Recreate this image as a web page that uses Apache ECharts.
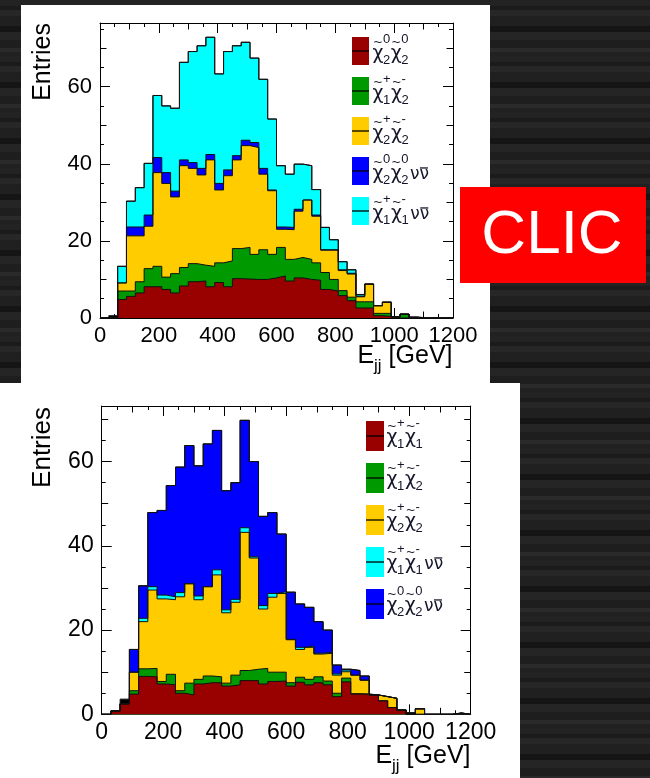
<!DOCTYPE html>
<html>
<head>
<meta charset="utf-8">
<script src="https://cdn.jsdelivr.net/npm/echarts@6/dist/echarts.min.js"></script>
<style>
html, body { margin: 0; padding: 0; }
body {
  width: 650px; height: 778px; overflow: hidden;
  background-color: #202020;
  background-image: repeating-linear-gradient(180deg,
    #232323 0px, #232323 6px, #1b1b1b 6px, #1b1b1b 10px,
    #272727 10px, #272727 16px, #202020 16px, #202020 26px,
    #151515 26px, #151515 32px, #252525 32px, #252525 40px,
    #1e1e1e 40px, #1e1e1e 48px, #2a2a2a 48px, #2a2a2a 52px,
    #212121 52px, #212121 56px);
}
#chart { width: 650px; height: 778px; }
</style>
</head>
<body>
<div id="chart"></div>
<script>
// Histogram binning: 40 bins of 30 GeV from 0 to 1200 GeV
const binEdges = [0, 30, 60, 90, 120, 150, 180, 210, 240, 270, 300, 330, 360, 390, 420, 450, 480, 510, 540, 570,
  600, 630, 660, 690, 720, 750, 780, 810, 840, 870, 900, 930, 960, 990, 1020, 1050, 1080, 1110, 1140, 1170, 1200];

const xTickLabels = ['0', '200', '400', '600', '800', '1000', '1200'];
const yTickLabels = ['0', '20', '40', '60'];

// Upper plot: per-process entries (stacked bottom to top)
const topN2N2   = [0, 0, 4.8, 5.6, 6.5, 8.1, 8.1, 7.4, 6.5, 8.3, 9.4, 9.6, 8.1, 9.2, 8.1, 10.2, 10.1, 10.0, 10.0, 10.4,
  10.9, 9.6, 10.4, 10.0, 9.8, 7.4, 7.0, 5.8, 4.5, 2.6, 2.6, 0.6, 0.4, 0, 0, 0, 0, 0, 0, 0];
const topC1C2   = [0, 0, 2.2, 1.4, 2.9, 4.7, 5.3, 3.2, 5.0, 4.8, 4.7, 4.1, 5.3, 5.1, 6.7, 7.8, 8.2, 6.5, 7.7, 6.1,
  7.4, 5.6, 5.3, 5.2, 4.5, 4.4, 3.0, 1.3, 0.9, 1.6, 1.6, 0.6, 0.8, 0.3, 1.0, 0, 0, 0, 0, 0];
const topC2C2   = [0, 0, 2.1, 14.3, 11.9, 11.0, 24.3, 24.3, 19.9, 26.4, 24.7, 23.4, 27.6, 18.9, 22.1, 23.0, 26.4, 27.7, 19.6, 16.5,
  4.7, 7.7, 12.0, 15.4, 12.1, 5.8, 7.6, 5.2, 6.0, 1.3, 4.6, 2.0, 2.9, 0, 0, 0, 0, 0, 0, 0];
const topN2N2nn = [0, 0, 0, 2.3, 2.3, 2.9, 3.9, 2.8, 1.5, 1.5, 1.5, 1.7, 1.4, 1.7, 1.5, 1.1, 1.4, 1.3, 1.5, 0.2,
  0.6, 0.6, 0.5, 0, 0.3, 0.1, 0.1, 0.2, 0.2, 0.2, 0, 0, 0, 0, 0, 0, 0, 0, 0, 0];
const topC1C1nn = [0, 0, 4.3, 6.7, 10.2, 13.4, 16.1, 17.3, 21.5, 25.3, 28.8, 31.8, 30.4, 28.4, 30.7, 28.5, 25.4, 21.9, 23.1, 18.4,
  15.9, 13.8, 11.7, 8.9, 6.6, 5.8, 2.6, 2.1, 0.9, 0.4, 0, 0, 0, 0, 0, 0, 0, 0, 0, 0];
const topOther  = [0, 0.6, 0, 0, 0, 0, 0, 0, 0, 0, 0, 0, 0, 0, 0, 0, 0, 0, 0, 0,
  0, 0, 0, 0, 0, 0, 0, 0, 0, 0, 0, 0, 0, 0, 0, 0.3, 0, 0, 0, 0];

// Lower plot: per-process entries (stacked bottom to top)
const botC1C1   = [0, 0.8, 2.5, 4.8, 9.0, 8.9, 7.2, 7.0, 5.0, 4.6, 7.2, 7.5, 7.5, 6.7, 7.0, 8.0, 8.0, 7.2, 7.8, 7.9,
  6.7, 7.6, 7.0, 7.5, 7.0, 4.2, 7.7, 4.8, 4.8, 4.6, 3.2, 1.6, 1.0, 0, 0, 0, 0, 0, 0, 0];
const botC1C2   = [0, 0, 0, 0.8, 1.8, 2.0, 0.6, 2.5, 0.6, 2.8, 1.1, 1.6, 1.4, 0.7, 2.3, 2.4, 2.7, 3.7, 2.2, 2.1,
  0.8, 1.2, 1.3, 1.4, 0.9, 0.8, 0.9, 0.1, 0, 0, 0, 0, 0, 0, 0, 0, 0, 0, 0, 0];
const botC2C2   = [0, 0, 0, 4.4, 11.2, 18.6, 19.6, 17.7, 22.3, 23.6, 18.9, 21.2, 24.2, 16.7, 17.3, 32.8, 26.4, 14.1, 17.8, 18.7,
  10.2, 6.6, 7.6, 5.4, 6.6, 4.3, 1.5, 4.4, 3.3, 0, 1.0, 2.2, 0, 0, 1.3, 0, 0, 0, 0.3, 0];
const botC1C1nn = [0, 0, 0, 0, 0.8, 0.8, 0.9, 0.7, 1.0, 0, 0.9, 0, 1.2, 0.7, 0.7, 1.1, 0.3, 0.8, 0.9, 0.4,
  0.1, 0.5, 0.3, 0.2, 0.2, 0.3, 0.4, 0, 0, 0, 0, 0, 0, 0, 0, 0, 0, 0, 0, 0];
const botN2N2nn = [0, 0, 0, 5.4, 7.7, 17.6, 20.1, 26.4, 29.8, 32.8, 30.9, 33.9, 33.1, 28.3, 27.7, 25.5, 22.6, 21.2, 19.2, 13.7,
  11.2, 10.3, 9.2, 7.5, 5.3, 2.1, 0.2, 1.1, 1.0, 0, 0, 0, 0, 0, 0, 0, 0, 0, 0, 0];
const botOther  = [0, 0, 1.1, 0, 0, 0, 0, 0, 0, 0, 0, 0, 0, 0, 0, 0, 0, 0, 0, 0,
  0, 0, 0, 0, 0, 0, 0, 0, 0, 0, 0, 0, 0, 0.4, 0, 0, 0, 0, 0, 0];

const C_RED = '#990000', C_GREEN = '#009900', C_YELLOW = '#ffcc00', C_BLUE = '#0000ff', C_CYAN = '#00ffff';
const FONT = '"Liberation Sans", Arial, Helvetica, sans-serif';
const GREEK = '"DejaVu Sans", "Liberation Sans", sans-serif';
const INK = '#000';
const LEG_INK = '#15152a';

// text width measurement for composed labels
const mctx = document.createElement('canvas').getContext('2d');
function tw(text, size, fam) { mctx.font = size + 'px ' + (fam || FONT); return mctx.measureText(text).width; }

function txt(x, baseline, text, size, opts) {
  opts = opts || {};
  return {
    type: 'text', x: x, y: baseline - 0.34 * size, z: 60, silent: true,
    style: { text: text, font: size + 'px ' + (opts.family || FONT), fill: opts.fill || INK,
             align: opts.align || 'left', verticalAlign: 'middle' }
  };
}

// chi-tilde symbols with super/subscripts, optional nu nu-bar
function processLabel(x, base, tokens, s, small) {
  const els = [];
  let cx = x;
  tokens.forEach(function (tk) {
    if (tk.chi) {
      const w = tw('χ', s, GREEK);
      els.push(txt(cx, base, 'χ', s, { fill: LEG_INK, family: GREEK }));
      els.push({ type: 'text', x: cx + w / 2, y: base - 18, z: 60, silent: true,
        style: { text: '~', font: '15px ' + FONT, fill: LEG_INK, align: 'center', verticalAlign: 'middle' } });
      els.push(txt(cx + w - 0.5, base - 16.5, tk.sup, small, { fill: LEG_INK }));
      els.push(txt(cx + w - 0.5, base + 4.5, tk.sub, small, { fill: LEG_INK }));
      cx += w - 0.5 + Math.max(tw(tk.sup, small), tw(tk.sub, small)) + 0.5;
    } else {
      const w = tw('ν', s - 2, GREEK);
      els.push(txt(cx + 1, base, 'ν', s - 2, { fill: LEG_INK, family: GREEK }));
      els.push(txt(cx + 1 + w, base, 'ν', s - 2, { fill: LEG_INK, family: GREEK }));
      els.push({ type: 'line', z: 60, silent: true,
        shape: { x1: cx + 1.5 + w, y1: base - 0.66 * s, x2: cx + 2 * w, y2: base - 0.66 * s },
        style: { stroke: LEG_INK, lineWidth: 1.3 } });
    }
  });
  return els;
}

function legend(entries, boxX, boxW, y0, boxH, pitch, textX, s, small) {
  let els = [];
  entries.forEach(function (e, i) {
    const y = y0 + i * pitch;
    els.push({ type: 'rect', z: 55, silent: true, shape: { x: boxX, y: y, width: boxW, height: boxH }, style: { fill: e.color } });
    els.push({ type: 'line', z: 56, silent: true,
      shape: { x1: boxX, y1: y + boxH / 2, x2: boxX + boxW, y2: y + boxH / 2 }, style: { stroke: '#000', lineWidth: 1.3 } });
    els = els.concat(processLabel(textX, y + 23.5, e.tokens, s, small));
  });
  return els;
}

function ejjTitle(right, base, big, sub) {
  const wE = tw('E', big), wj = tw('jj', sub), wG = tw(' [GeV]', big);
  const x0 = right - (wE + wj + wG);
  return [txt(x0, base, 'E', big), txt(x0 + wE, base + 0.3 * big, 'jj', sub), txt(x0 + wE + wj, base, ' [GeV]', big)];
}

// frame axes: labelled axis + medium + short tick axes, mirrored on the opposite side
function panelAxes(gi, ymax, labelSize) {
  const line = { show: true, onZero: false, lineStyle: { color: '#000', width: 1 } };
  const noLine = { show: false, onZero: false };
  const xs = [], ys = [];
  const xc = { gridIndex: gi, type: 'value', min: 0, max: 1200, splitLine: { show: false } };
  const yc = { gridIndex: gi, type: 'value', min: 0, max: ymax, splitLine: { show: false } };
  const xLabelMap = {};
  xTickLabels.forEach(function (t) { xLabelMap[t] = t; });
  ['bottom', 'top'].forEach(function (pos) {
    xs.push(Object.assign({}, xc, { position: pos, interval: 200, axisLine: line,
      axisTick: { show: true, inside: true, length: 10, lineStyle: { color: '#000' } },
      axisLabel: { show: pos === 'bottom', margin: 7, fontSize: labelSize, color: INK, fontFamily: FONT,
        formatter: function (v) { return xLabelMap[String(v)] || ''; } } }));
    xs.push(Object.assign({}, xc, { position: pos, interval: 100, axisLine: noLine,
      axisTick: { show: true, inside: true, length: 6.5, lineStyle: { color: '#000' } }, axisLabel: { show: false } }));
    xs.push(Object.assign({}, xc, { position: pos, interval: 50, axisLine: noLine,
      axisTick: { show: true, inside: true, length: 4, lineStyle: { color: '#000' } }, axisLabel: { show: false } }));
  });
  const yLabelSet = {};
  yTickLabels.forEach(function (t) { yLabelSet[t] = true; });
  ['left', 'right'].forEach(function (pos) {
    ys.push(Object.assign({}, yc, { position: pos, interval: 20, axisLine: line,
      axisTick: { show: true, inside: true, length: 10, lineStyle: { color: '#000' } },
      axisLabel: { show: pos === 'left', margin: 8, fontSize: labelSize, color: INK, fontFamily: FONT,
        showMaxLabel: false, formatter: function (v) { return yLabelSet[String(v)] ? String(v) : ''; } } }));
    ys.push(Object.assign({}, yc, { position: pos, interval: 10, axisLine: noLine,
      axisTick: { show: true, inside: true, length: 6.5, lineStyle: { color: '#000' } }, axisLabel: { show: false } }));
    ys.push(Object.assign({}, yc, { position: pos, interval: 5, axisLine: noLine,
      axisTick: { show: true, inside: true, length: 4, lineStyle: { color: '#000' } }, axisLabel: { show: false } }));
  });
  return { xs: xs, ys: ys };
}

// stacked histogram: cumulative step areas drawn from the top layer down
function stackSeries(layers, xi, yi) {
  const cum = [];
  let run = layers[0].values.map(function () { return 0; });
  layers.forEach(function (l) {
    run = run.map(function (v, i) { return v + l.values[i]; });
    cum.push(run.slice());
  });
  const out = [];
  for (let k = layers.length - 1; k >= 0; k--) {
    const c = cum[k];
    out.push({
      type: 'line', name: layers[k].name, xAxisIndex: xi, yAxisIndex: yi,
      step: 'end', symbol: 'none', showSymbol: false, animation: false, silent: true, z: 2,
      data: binEdges.map(function (x, i) { return [x, c[Math.min(i, c.length - 1)]]; }),
      lineStyle: { color: '#111', width: 1 },
      areaStyle: { color: layers[k].color, opacity: 1 }
    });
  }
  return out;
}

const TOP_YMAX = 76.5, BOT_YMAX = 73.2;
const a0 = panelAxes(0, TOP_YMAX, 22);
const a1 = panelAxes(1, BOT_YMAX, 23);

const topLayers = [
  { name: 'N2N2', values: topN2N2, color: C_RED },
  { name: 'C1C2', values: topC1C2, color: C_GREEN },
  { name: 'C2C2', values: topC2C2, color: C_YELLOW },
  { name: 'N2N2nn', values: topN2N2nn, color: C_BLUE },
  { name: 'C1C1nn', values: topC1C1nn, color: C_CYAN },
  { name: 'other', values: topOther, color: '#000' }
];
const botLayers = [
  { name: 'C1C1', values: botC1C1, color: C_RED },
  { name: 'C1C2', values: botC1C2, color: C_GREEN },
  { name: 'C2C2', values: botC2C2, color: C_YELLOW },
  { name: 'C1C1nn', values: botC1C1nn, color: C_CYAN },
  { name: 'N2N2nn', values: botN2N2nn, color: C_BLUE },
  { name: 'other', values: botOther, color: '#000' }
];

const NU = { nu: true };
const topLegend = [
  { color: C_RED,    tokens: [{ chi: 1, sup: '0', sub: '2' }, { chi: 1, sup: '0', sub: '2' }] },
  { color: C_GREEN,  tokens: [{ chi: 1, sup: '+', sub: '1' }, { chi: 1, sup: '-', sub: '2' }] },
  { color: C_YELLOW, tokens: [{ chi: 1, sup: '+', sub: '2' }, { chi: 1, sup: '-', sub: '2' }] },
  { color: C_BLUE,   tokens: [{ chi: 1, sup: '0', sub: '2' }, { chi: 1, sup: '0', sub: '2' }, NU] },
  { color: C_CYAN,   tokens: [{ chi: 1, sup: '+', sub: '1' }, { chi: 1, sup: '-', sub: '1' }, NU] }
];
const botLegend = [
  { color: C_RED,    tokens: [{ chi: 1, sup: '+', sub: '1' }, { chi: 1, sup: '-', sub: '1' }] },
  { color: C_GREEN,  tokens: [{ chi: 1, sup: '+', sub: '1' }, { chi: 1, sup: '-', sub: '2' }] },
  { color: C_YELLOW, tokens: [{ chi: 1, sup: '+', sub: '2' }, { chi: 1, sup: '-', sub: '2' }] },
  { color: C_CYAN,   tokens: [{ chi: 1, sup: '+', sub: '1' }, { chi: 1, sup: '-', sub: '1' }, NU] },
  { color: C_BLUE,   tokens: [{ chi: 1, sup: '0', sub: '2' }, { chi: 1, sup: '0', sub: '2' }, NU] }
];

let graphics = [
  // white canvases of the two plots and the CLIC badge
  { type: 'rect', z: -10, silent: true, shape: { x: 21, y: 5, width: 469, height: 380 }, style: { fill: '#fff' } },
  { type: 'rect', z: -10, silent: true, shape: { x: 0, y: 383, width: 520, height: 395 }, style: { fill: '#fff' } },
  { type: 'rect', z: -9, silent: true, shape: { x: 460, y: 187, width: 186, height: 96 }, style: { fill: '#ff0000' } },
  { type: 'text', z: 60, silent: true, x: 552, y: 236,
    style: { text: 'CLIC', font: '62px ' + FONT, fill: '#fff', align: 'center', verticalAlign: 'middle' } },
  // rotated axis titles, anchored at the top of each frame
  { type: 'text', z: 60, silent: true, x: 51.5 - 0.34 * 25, y: 23, rotation: Math.PI / 2,
    style: { text: 'Entries', font: '25px ' + FONT, fill: INK, align: 'right', verticalAlign: 'middle' } },
  { type: 'text', z: 60, silent: true, x: 51.5 - 0.34 * 26, y: 407, rotation: Math.PI / 2,
    style: { text: 'Entries', font: '26px ' + FONT, fill: INK, align: 'right', verticalAlign: 'middle' } }
];
graphics = graphics.concat(ejjTitle(452.5, 365, 25, 17));
graphics = graphics.concat(ejjTitle(470.5, 765, 25, 17));
graphics = graphics.concat(legend(topLegend, 352, 17, 37, 28, 40, 372.5, 19, 13));
graphics = graphics.concat(legend(botLegend, 366, 18, 421, 30, 42, 386.5, 19, 13));

const option = {
  backgroundColor: 'transparent',
  animation: false,
  grid: [
    { left: 100, top: 23, width: 353, height: 295, containLabel: false, outerBoundsMode: 'none' },
    { left: 101.7, top: 406, width: 369, height: 308.3, containLabel: false, outerBoundsMode: 'none' }
  ],
  xAxis: a0.xs.concat(a1.xs),
  yAxis: a0.ys.concat(a1.ys),
  series: stackSeries(topLayers, 0, 0).concat(stackSeries(botLayers, 6, 6)),
  graphic: { elements: graphics }
};

const chart = echarts.init(document.getElementById('chart'), null, { renderer: 'canvas' });
chart.setOption(option);
</script>
</body>
</html>
